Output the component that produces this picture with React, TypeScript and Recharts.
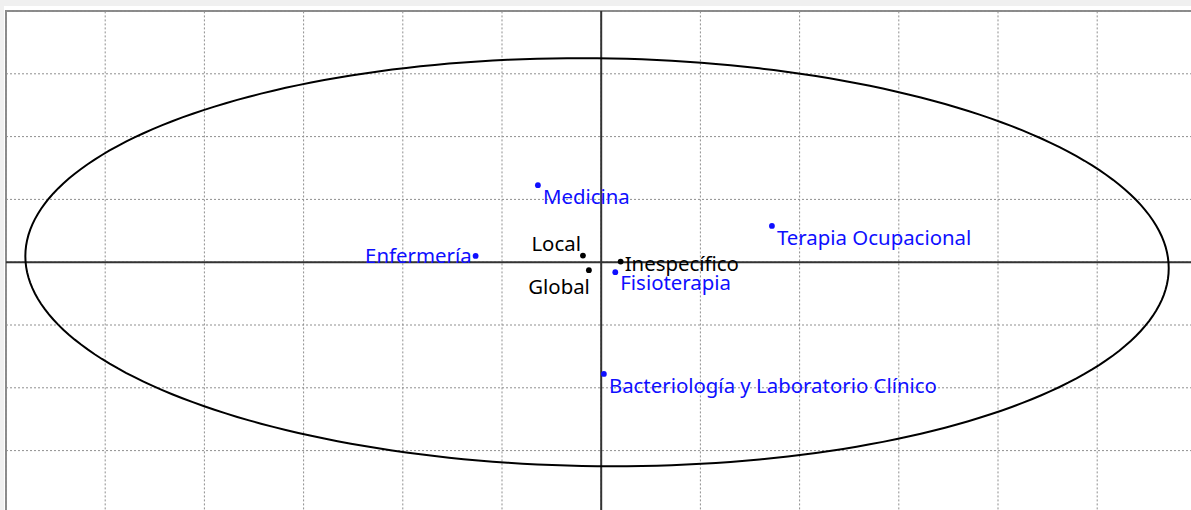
import React from 'react';
import { ScatterChart, Scatter, XAxis, YAxis, ReferenceLine, ReferenceArea } from 'recharts';

// Row categories (careers) – blue points
const rowLabels = ['Medicina', 'Enfermería', 'Fisioterapia', 'Terapia Ocupacional', 'Bacteriología y Laboratorio Clínico'];
const rowX = [-0.0638, -0.1266, 0.0142, 0.1721, 0.0027];
const rowY = [0.1226, 0.0100, -0.0159, 0.0578, -0.1779];

// Column categories – black points
const colLabels = ['Local', 'Global', 'Inespecífico'];
const colX = [-0.0184, -0.0124, 0.0196];
const colY = [0.0105, -0.0127, 0.0010];

// Grid ticks
const xTicks = [-0.6, -0.5, -0.4, -0.3, -0.2, -0.1, 0, 0.1, 0.2, 0.3, 0.4, 0.5, 0.6];
const yTicks = [-0.4, -0.3, -0.2, -0.1, 0, 0.1, 0.2, 0.3, 0.4];

// Ellipse parameters (data units)
const ellipseCenterX = -0.0042;
const ellipseCenterY = 0.0;
const ellipseHalfWidth = 0.5763;
const ellipseHalfHeight = 0.3248;
const ellipseTilt = 0.0096;

const ellipseData = Array.from({ length: 241 }, (_, i) => {
  const t = (i / 240) * 2 * Math.PI;
  return {
    x: ellipseCenterX + ellipseHalfWidth * Math.cos(t),
    y: ellipseCenterY + ellipseHalfHeight * Math.sin(t) - ellipseTilt * Math.cos(t),
  };
});

const rowData = rowLabels.map((name, i) => ({ name, x: rowX[i], y: rowY[i] }));
const colData = colLabels.map((name, i) => ({ name, x: colX[i], y: colY[i] }));

// label placement (style only)
const placement: Record<string, { dx: number; dy: number; anchor: 'start' | 'end' }> = {
  'Medicina': { dx: 5, dy: 19, anchor: 'start' },
  'Enfermería': { dx: -4, dy: 7, anchor: 'end' },
  'Fisioterapia': { dx: 5, dy: 18, anchor: 'start' },
  'Terapia Ocupacional': { dx: 5, dy: 19, anchor: 'start' },
  'Bacteriología y Laboratorio Clínico': { dx: 5, dy: 19, anchor: 'start' },
  'Local': { dx: -2, dy: -5, anchor: 'end' },
  'Global': { dx: 1, dy: 24, anchor: 'end' },
  'Inespecífico': { dx: 4, dy: 9, anchor: 'start' },
};

const FONT = '"Noto Sans", "Open Sans", sans-serif';

const makeShape = (color: string) => (props: any) => {
  const { cx, cy, payload } = props;
  const p = placement[payload.name] || { dx: 5, dy: 18, anchor: 'start' };
  return (
    <g>
      <circle cx={cx} cy={cy} r={2.9} fill={color} />
      <text x={cx + p.dx} y={cy + p.dy} textAnchor={p.anchor} fill={color} fontSize={20.4} fontFamily={FONT}>
        {payload.name}
      </text>
    </g>
  );
};

const emptyShape = () => <g />;

export default function App() {
  return (
    <div style={{ position: 'fixed', left: 0, top: 0, width: 1191, height: 510, overflow: 'hidden', background: '#f0f0f0' }}>
      <div style={{ position: 'absolute', left: 4, top: 6, width: 1300, height: 600, background: '#ffffff' }} />
      <div style={{ position: 'absolute', left: 4.4, top: 9.1 }}>
        <ScatterChart width={1196} height={508} margin={{ top: 2, left: 2, right: 3.6, bottom: 3.6 }}>
          <XAxis type="number" dataKey="x" domain={[-0.6, 0.6]} ticks={xTicks} hide allowDataOverflow />
          <YAxis type="number" dataKey="y" domain={[-0.4, 0.4]} ticks={yTicks} hide allowDataOverflow />
          {xTicks.map((v) => (
            <ReferenceLine key={'gx' + v} x={v} stroke="#8f8f8f" strokeWidth={1} strokeDasharray="2 2" ifOverflow="extendDomain" />
          ))}
          {yTicks.map((v) => (
            <ReferenceLine key={'gy' + v} y={v} stroke="#8f8f8f" strokeWidth={1} strokeDasharray="2 2" ifOverflow="extendDomain" />
          ))}
          <ReferenceLine x={0} stroke="#333333" strokeWidth={2} />
          <ReferenceLine y={0} stroke="#333333" strokeWidth={2} />
          <ReferenceArea x1={-0.6} x2={0.6} y1={-0.4} y2={0.4} fill="none" stroke="#8a8a8a" strokeWidth={2} fillOpacity={0} />
          <Scatter data={ellipseData} line={{ stroke: '#000000', strokeWidth: 2 }} lineType="joint" shape={emptyShape} isAnimationActive={false} />
          <Scatter data={colData} shape={makeShape('#000000')} isAnimationActive={false} />
          <Scatter data={rowData} shape={makeShape('#0f0fff')} isAnimationActive={false} />
        </ScatterChart>
      </div>
    </div>
  );
}
